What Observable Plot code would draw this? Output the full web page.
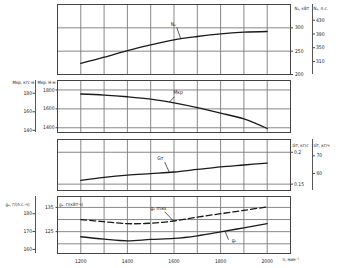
<!DOCTYPE html>
<html><head><meta charset="utf-8">
<script src="https://cdn.jsdelivr.net/npm/d3@7"></script>
<script src="https://cdn.jsdelivr.net/npm/@observablehq/plot@0.6"></script>
<style>
html,body{margin:0;padding:0;background:#fff;}
#chart{position:relative;width:338px;height:268px;overflow:hidden;background:#fff;}
#chart svg{position:absolute;left:0;overflow:visible;}
</style></head><body><div id="chart"></div>
<script>
// shared x (n, rpm)
const rpm = [1200, 1300, 1400, 1500, 1600, 1700, 1800, 1900, 2000];
const xDomain = [1100, 2100];
const xGridTicks = [1100, 1200, 1300, 1400, 1500, 1600, 1700, 1800, 1900, 2000, 2100];
const xLabelTicks = [1200, 1400, 1600, 1800, 2000];
const xTitle = "n, мин⁻¹";

// Panel 1: Ne, kW (and hp)
const ne = [223.6, 237, 251.4, 263.6, 274.3, 281.4, 287.1, 290.6, 292.1];
const neDomain = [200, 350];
const neTicks = [200, 250, 300];
const neGrid = [250, 300];
const neHpTicks = [310, 350, 390, 430];
const neTitles = ["Nₑ, кВт", "Nₑ, л.с."];
const neLabel = [{x: 1597, y: 308, x1: 1612, y1: 301, x2: 1628, y2: 278, t: "Nₑ"}];

// Panel 2: Mkr, N·m (and kgf·m)
const mkr = [1757, 1746, 1728, 1703, 1663, 1613, 1555, 1494, 1392];
const mDomain = [1350, 1900];
const mTicks = [1400, 1600, 1800];
const mKgfTicks = [140, 160, 180];
const mTitles = ["Mкр, кгс·м", "Mкр, Н·м"];
const mLabel = [{x: 1618, y: 1770, x1: 1602, y1: 1728, x2: 1580, y2: 1672, t: "Mкр"}];

// Panel 3: Gт, kg/s (and second scale)
const gt = [0.156, 0.1605, 0.164, 0.1665, 0.169, 0.173, 0.177, 0.180, 0.183];
const gDomain = [0.14, 0.22];
const gTicks = [0.15, 0.2];
const gSecTicks = [60, 70];
const gTitles = ["Gт, кг/с", "Gт, кг/ч"];
const gLabel = [{x: 1541, y: 0.1906, x1: 1560, y1: 0.1845, x2: 1580, y2: 0.1686, t: "Gт"}];

// Panel 4: ge, g/(kW·h) inner, g/(hp·h) outer
const geMax = [130.0, 129.1, 128.3, 128.5, 129.4, 131.0, 132.4, 133.8, 135.2];
const ge = [122.9, 121.9, 121.2, 121.8, 122.2, 123.3, 124.9, 126.6, 128.3];
const geDomain = [116, 139.5];
const geTicks = [125, 135];
const geGrid = [120, 125, 130, 135];
const geHpTicks = [160, 170, 180];
const geTitles = ["gₑ, г/(л.с.·ч)", "gₑ, г/(кВт·ч)"];
const geLabels = [
  {x: 1533, y: 134.8, x1: 1560, y1: 133.2, x2: 1597, y2: 129.5, t: "gₑ max"},
  {x: 1858, y: 121.3, x1: 1819, y1: 125.2, x2: 1834, y2: 121.7, t: "gₑ"}
];

const HP2KW = 0.7355, KGF2NM = 9.807, KGH = 1 / 360;

const FONT = "'Liberation Sans Narrow','DejaVu Sans Condensed','Liberation Sans',sans-serif";
const INK = "#1a1a1a", GRID = "#7a7a7a", FRAME = "#444";
const TS = 4.4; // axis title font size
const fmt = d => String(d);
const chart = document.getElementById("chart");

const rows = (ys) => rpm.map((n, i) => ({n, v: ys[i]}));

function panel({top, height, mt, mb, yDomain, yGrid, marks}) {
  const svg = Plot.plot({
    width: 338, height, marginTop: mt, marginBottom: mb, marginLeft: 57, marginRight: 48,
    style: {fontFamily: FONT, fontSize: "5px", background: "transparent", overflow: "visible", color: INK},
    x: {domain: xDomain, axis: null},
    y: {domain: yDomain, axis: null},
    marks: [
      Plot.gridX(xGridTicks, {stroke: GRID, strokeOpacity: 1, strokeWidth: 0.9}),
      Plot.gridY(yGrid, {stroke: GRID, strokeOpacity: 1, strokeWidth: 0.9}),
      Plot.frame({stroke: FRAME, strokeWidth: 1}),
      ...marks
    ]
  });
  svg.style.top = top + "px";
  chart.append(svg);
}

const leaders = (a) => [
  Plot.link(a, {x1: "x1", y1: "y1", x2: "x2", y2: "y2", stroke: INK, strokeWidth: 0.7}),
  Plot.text(a, {x: "x", y: "y", text: "t", fill: INK, fontSize: 5})
];

// Panel 1
panel({top: 0, height: 77, mt: 4, mb: 3, yDomain: neDomain, yGrid: neGrid, marks: [
  Plot.line(rows(ne), {x: "n", y: "v", stroke: INK, strokeWidth: 1.3, curve: "catmull-rom"}),
  ...leaders(neLabel),
  Plot.axisY(neTicks, {anchor: "right", tickSize: 2, tickPadding: 2.5, stroke: FRAME, label: null, tickFormat: fmt}),
  Plot.ruleX([xDomain[1]], {dx: 22, stroke: FRAME, strokeWidth: 0.9}),
  Plot.axisY(neHpTicks, {y: d => d * HP2KW, text: fmt, anchor: "right", dx: 22, tickSize: 2, tickPadding: 1.5, stroke: FRAME, label: null}),
  Plot.text([neTitles[0]], {frameAnchor: "top-right", dx: 4, dy: 2, textAnchor: "start", fill: INK, fontSize: TS}),
  Plot.text([neTitles[1]], {frameAnchor: "top-right", dx: 23, dy: 2, textAnchor: "start", fill: INK, fontSize: TS})
]});

// Panel 2
panel({top: 77, height: 58, mt: 3, mb: 3, yDomain: mDomain, yGrid: mTicks, marks: [
  Plot.line(rows(mkr), {x: "n", y: "v", stroke: INK, strokeWidth: 1.3, curve: "catmull-rom"}),
  ...leaders(mLabel),
  Plot.axisY(mTicks, {anchor: "left", tickSize: 1.5, tickPadding: 1.5, stroke: FRAME, label: null, tickFormat: fmt}),
  Plot.ruleX([xDomain[0]], {dx: -22, stroke: FRAME, strokeWidth: 0.9}),
  Plot.axisY(mKgfTicks, {y: d => d * KGF2NM, text: fmt, anchor: "left", dx: -22, tickSize: 2.5, tickPadding: 1, stroke: FRAME, label: null}),
  Plot.text([mTitles[0]], {frameAnchor: "top-left", dx: -45, dy: 0, textAnchor: "start", fill: INK, fontSize: TS}),
  Plot.text([mTitles[1]], {frameAnchor: "top-left", dx: -20, dy: 0, textAnchor: "start", fill: INK, fontSize: TS})
]});

// Panel 3
panel({top: 135, height: 58, mt: 4, mb: 3, yDomain: gDomain, yGrid: gTicks, marks: [
  Plot.line(rows(gt), {x: "n", y: "v", stroke: INK, strokeWidth: 1.3, curve: "catmull-rom"}),
  ...leaders(gLabel),
  Plot.axisY(gTicks, {anchor: "right", tickSize: 2, tickPadding: 1.5, stroke: FRAME, label: null, tickFormat: fmt}),
  Plot.ruleX([xDomain[1]], {dx: 22, stroke: FRAME, strokeWidth: 0.9}),
  Plot.axisY(gSecTicks, {y: d => d * KGH, text: fmt, anchor: "right", dx: 22, tickSize: 2, tickPadding: 2, stroke: FRAME, label: null}),
  Plot.text([gTitles[0]], {frameAnchor: "top-right", dx: 2, dy: 4, textAnchor: "start", fill: INK, fontSize: TS}),
  Plot.text([gTitles[1]], {frameAnchor: "top-right", dx: 23, dy: 4, textAnchor: "start", fill: INK, fontSize: TS})
]});

// Panel 4
panel({top: 193, height: 75, mt: 3, mb: 15, yDomain: geDomain, yGrid: geGrid, marks: [
  Plot.line(rows(geMax), {x: "n", y: "v", stroke: INK, strokeWidth: 1.3, strokeDasharray: "6,3", curve: "catmull-rom"}),
  Plot.line(rows(ge), {x: "n", y: "v", stroke: INK, strokeWidth: 1.3, curve: "catmull-rom"}),
  ...leaders(geLabels),
  Plot.axisY(geTicks, {anchor: "left", tickSize: 1.5, tickPadding: 2.5, stroke: FRAME, label: null, tickFormat: fmt}),
  Plot.ruleX([xDomain[0]], {dx: -22, stroke: FRAME, strokeWidth: 0.9}),
  Plot.axisY(geHpTicks, {y: d => d * HP2KW, text: fmt, anchor: "left", dx: -22, tickSize: 2.5, tickPadding: 1, stroke: FRAME, label: null}),
  Plot.text([geTitles[0]], {frameAnchor: "top-left", dx: -52, dy: 6, textAnchor: "start", fill: INK, fontSize: TS}),
  Plot.text([geTitles[1]], {frameAnchor: "top-left", dx: 1.5, dy: 6, textAnchor: "start", fill: INK, fontSize: TS}),
  Plot.axisX(xLabelTicks, {anchor: "bottom", tickSize: 0, tickPadding: 5.5, label: null, tickFormat: fmt}),
  Plot.text([xTitle], {frameAnchor: "bottom-right", dx: -8, dy: 7.5, textAnchor: "start", fill: INK, fontSize: TS})
]});
</script></body></html>
